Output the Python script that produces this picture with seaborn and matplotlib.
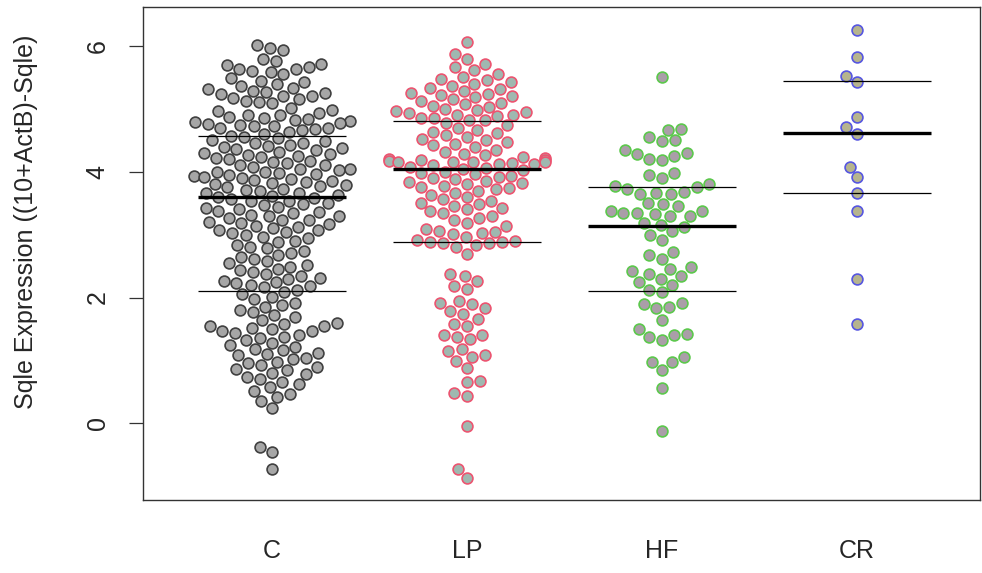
import warnings
import matplotlib
matplotlib.use('Agg')
import matplotlib.pyplot as plt
import numpy as np
import pandas as pd
import seaborn as sns

warnings.filterwarnings('ignore')

groups = ['C', 'LP', 'HF', 'CR']

c_vals = [
    6.02, 5.97, 5.93,
    5.79, 5.76, 5.71, 5.70, 5.67, 5.64, 5.63, 5.60, 5.58, 5.56,
    5.49, 5.45, 5.43, 5.39, 5.37, 5.33, 5.31, 5.29, 5.27, 5.26, 5.24, 5.21,
    5.20, 5.17, 5.16, 5.13, 5.11, 5.09,
    5.01, 4.98, 4.97, 4.94, 4.91, 4.90, 4.87, 4.85, 4.84, 4.82, 4.80, 4.79,
    4.78, 4.76, 4.75, 4.73, 4.72, 4.70, 4.69, 4.68, 4.66, 4.64,
    4.60, 4.57, 4.56, 4.53, 4.50, 4.49, 4.46, 4.45, 4.43, 4.41, 4.40, 4.37,
    4.36, 4.34, 4.32, 4.30, 4.29, 4.27, 4.25, 4.24, 4.22, 4.20,
    4.17, 4.15, 4.14, 4.11, 4.10, 4.07, 4.05, 4.04, 4.02, 4.00, 3.99, 3.98,
    3.96, 3.95, 3.94, 3.92, 3.90, 3.89, 3.87, 3.85, 3.84, 3.82, 3.80, 3.79,
    3.77, 3.75, 3.73, 3.71,
    3.69, 3.67, 3.66, 3.63, 3.62, 3.60, 3.59, 3.56, 3.54, 3.53, 3.50, 3.48,
    3.47, 3.44, 3.42, 3.40,
    3.38, 3.36, 3.35, 3.32, 3.30, 3.29, 3.26, 3.24, 3.23, 3.20, 3.18, 3.17,
    3.14, 3.12, 3.10, 3.08, 3.07, 3.04, 3.02, 3.00,
    2.97, 2.94, 2.90, 2.88, 2.84, 2.81, 2.78, 2.74, 2.71, 2.68, 2.64, 2.62,
    2.58, 2.55, 2.52, 2.49,
    2.46, 2.43, 2.40, 2.37, 2.34, 2.31, 2.29, 2.27, 2.24, 2.23, 2.20, 2.18,
    2.16, 2.12, 2.09, 2.05, 2.01, 1.97,
    1.92, 1.88, 1.85, 1.80, 1.77, 1.72, 1.69, 1.64,
    1.60, 1.58, 1.55, 1.54, 1.51, 1.50, 1.47, 1.46, 1.43, 1.41, 1.38, 1.36,
    1.32, 1.28,
    1.24, 1.22, 1.18, 1.16, 1.12, 1.10, 1.08, 1.04, 1.02, 0.98, 0.96, 0.92,
    0.89,
    0.86, 0.84, 0.80, 0.78, 0.74, 0.71, 0.66, 0.62, 0.58,
    0.52, 0.47, 0.42, 0.35, 0.24,
    -0.37, -0.45, -0.72,
]

lp_vals = [
    6.06,
    5.88, 5.79, 5.72, 5.67,
    5.62, 5.55, 5.51, 5.48, 5.46, 5.43, 5.40, 5.37, 5.33, 5.31, 5.28, 5.26,
    5.24, 5.22, 5.20, 5.19,
    5.16, 5.13, 5.10, 5.07, 5.05, 5.03, 5.00, 4.98, 4.97, 4.95, 4.93, 4.91,
    4.90, 4.88, 4.86, 4.85, 4.83, 4.82,
    4.78, 4.74, 4.70, 4.67, 4.64, 4.61, 4.58, 4.55, 4.52, 4.50, 4.47, 4.44,
    4.42, 4.39,
    4.35, 4.32, 4.29, 4.26, 4.24, 4.22, 4.20, 4.19, 4.18, 4.17, 4.16, 4.16,
    4.15, 4.15, 4.14, 4.13, 4.12, 4.10, 4.08, 4.06, 4.04, 4.03,
    4.00, 3.98, 3.96, 3.94, 3.92, 3.90, 3.88, 3.86, 3.84, 3.82, 3.80, 3.78,
    3.76, 3.74, 3.72, 3.70,
    3.67, 3.63, 3.60, 3.57, 3.54, 3.51, 3.49, 3.46, 3.43, 3.40, 3.37, 3.34,
    3.30, 3.27, 3.23, 3.19, 3.14, 3.09,
    3.06, 3.04, 3.02, 3.01,
    2.97, 2.92, 2.90, 2.89, 2.88, 2.87, 2.86, 2.84, 2.80, 2.70,
    2.37, 2.34, 2.26, 2.18, 2.13,
    1.94, 1.91, 1.89, 1.83, 1.78, 1.74, 1.66,
    1.58, 1.55, 1.41, 1.40, 1.37, 1.34,
    1.18, 1.15, 1.09, 1.06, 0.99, 0.88,
    0.67, 0.65, 0.48, 0.43,
    -0.05,
    -0.73, -0.87,
]

hf_vals = [
    5.50,
    4.68, 4.67, 4.55, 4.50, 4.49,
    4.35, 4.30, 4.29, 4.25, 4.20, 4.18,
    3.98, 3.95, 3.90,
    3.80, 3.78, 3.75, 3.72, 3.68, 3.66, 3.65, 3.64,
    3.50, 3.49, 3.45, 3.38, 3.37, 3.35, 3.34, 3.33, 3.30, 3.29, 3.18, 3.15,
    3.12,
    3.05, 3.00, 2.92,
    2.72, 2.68, 2.62,
    2.48, 2.45, 2.42, 2.38, 2.35, 2.30, 2.25, 2.20, 2.12, 2.08,
    1.92, 1.90, 1.85, 1.83,
    1.65, 1.50, 1.42, 1.40, 1.38, 1.33,
    1.05, 0.98, 0.97, 0.85,
    0.56,
    -0.13,
]

cr_vals = [6.25, 5.82, 5.53, 5.42, 4.87, 4.71, 4.60, 4.08, 3.91, 3.67,
           3.38, 2.29, 1.58]

# quartile lines as drawn in the reference (25%, median, 75%)
q1_vals = [2.10, 2.88, 2.10, 3.67]
med_vals = [3.60, 4.05, 3.14, 4.62]
q3_vals = [4.57, 4.80, 3.76, 5.45]

edge_cols = ['#404040', '#ec5470', '#5cc84c', '#5656e0']
fill_cols = ['#a6a6a6', '#9fb8b0', '#aa9ea8', '#b6b48e']

df = pd.DataFrame({
    'group': (['C'] * len(c_vals) + ['LP'] * len(lp_vals)
              + ['HF'] * len(hf_vals) + ['CR'] * len(cr_vals)),
    'value': c_vals + lp_vals + hf_vals + cr_vals,
})

sns.set_style('white')
plt.rcParams['font.family'] = ['Liberation Sans', 'DejaVu Sans']

fig = plt.figure(figsize=(9.82, 5.73), dpi=100)
ax = fig.add_axes([143 / 982, 73 / 573, 837 / 982, 493 / 573])

for i, g in enumerate(groups):
    sns.swarmplot(data=df[df['group'] == g], x='group', y='value', order=groups,
                  color=fill_cols[i], edgecolor=edge_cols[i], linewidth=1.2,
                  size=7.8, ax=ax, warn_thresh=1)

xs = np.arange(len(groups))
ax.hlines(q1_vals, xs - 0.38, xs + 0.38, color='black', lw=0.9, zorder=5)
ax.hlines(q3_vals, xs - 0.38, xs + 0.38, color='black', lw=0.9, zorder=5)
ax.hlines(med_vals, xs - 0.38, xs + 0.38, color='black', lw=2.4, zorder=5)

ax.set_xlim(-0.66, 3.63)
ax.set_ylim(-1.22, 6.62)
ax.set_yticks([0, 2, 4, 6])
ax.set_yticklabels(['0', '2', '4', '6'], rotation=90, va='center')
ax.tick_params(axis='y', length=10, width=0.9, pad=14, labelsize=18,
               direction='out', left=True, color='#333333')
ax.tick_params(axis='x', length=0, pad=28, labelsize=18)
ax.set_xlabel('')
ax.set_ylabel('Sqle Expression ((10+ActB)-Sqle)', fontsize=18)
ax.yaxis.set_label_coords(-0.125, 0.565)
for s in ax.spines.values():
    s.set_visible(True)
    s.set_color('#333333')
    s.set_linewidth(1.0)

fig.savefig('out.png', dpi=100, facecolor='white')
